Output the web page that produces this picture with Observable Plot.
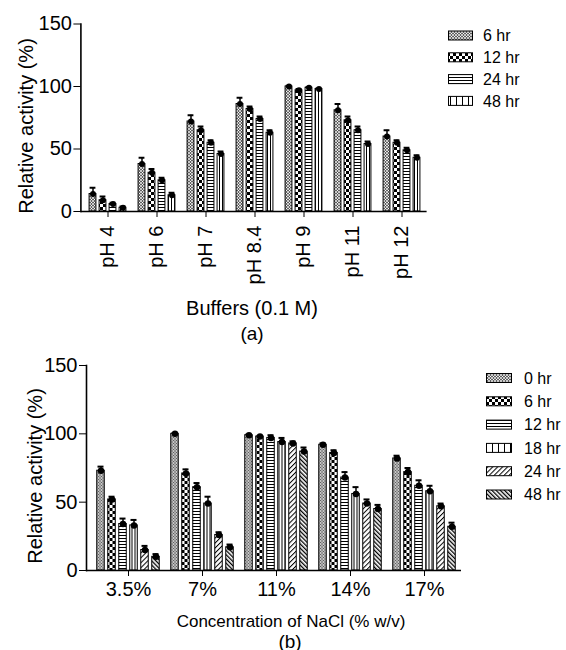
<!DOCTYPE html>
<html><head><meta charset="utf-8">
<script src="https://cdn.jsdelivr.net/npm/d3@7"></script>
<script src="https://cdn.jsdelivr.net/npm/@observablehq/plot@0.6"></script>
<style>
body{margin:0;background:#fff;font-family:"Liberation Sans",Arial,sans-serif;color:#000;}
#wrap{position:relative;width:566px;height:650px;overflow:hidden;background:#fff;}
.abs{position:absolute;left:0;}
.txt{position:absolute;white-space:nowrap;transform:translate(-50%,-50%);line-height:1;}
.rot{position:absolute;white-space:nowrap;transform:translate(-50%,-50%) rotate(-90deg);line-height:1;}
</style></head>
<body>
<svg width="0" height="0" style="position:absolute">
<defs>
<pattern id="pFine" width="3" height="3" patternUnits="userSpaceOnUse"><rect width="3" height="3" fill="#fff"/><circle cx="1.5" cy="1.5" r="1" fill="none" stroke="#000" stroke-width="0.7"/></pattern>
<pattern id="pCheck" width="6" height="6" patternUnits="userSpaceOnUse"><rect width="6" height="6" fill="#fff"/><rect width="3" height="3" fill="#000"/><rect x="3" y="3" width="3" height="3" fill="#000"/></pattern>
<pattern id="pH" width="4" height="3" patternUnits="userSpaceOnUse"><rect width="4" height="3" fill="#fff"/><rect width="4" height="1" fill="#000"/></pattern>
<pattern id="pV" width="3" height="4" patternUnits="userSpaceOnUse"><rect width="3" height="4" fill="#fff"/><rect width="1" height="4" fill="#000"/></pattern>
<pattern id="pVL" width="6" height="4" patternUnits="userSpaceOnUse"><rect width="6" height="4" fill="#fff"/><rect width="1" height="4" fill="#000"/></pattern>
<pattern id="pD1" width="3.5" height="4" patternUnits="userSpaceOnUse" patternTransform="rotate(45)"><rect width="3.5" height="4" fill="#fff"/><rect width="1" height="4" fill="#000"/></pattern>
<pattern id="pD2" width="3" height="4" patternUnits="userSpaceOnUse" patternTransform="rotate(-45)"><rect width="3" height="4" fill="#fff"/><rect width="1.3" height="4" fill="#000"/></pattern>
</defs></svg>
<div id="wrap"></div>
<script>
// ---------- Chart (a): buffers ----------
const buffers = ["pH 4","pH 6","pH 7","pH 8.4","pH 9","pH 11","pH 12"];
const bufferSeries = ["6 hr","12 hr","24 hr","48 hr"];
const buf6hr  = [14, 38, 72, 86, 100, 81, 60];
const buf12hr = [9, 31, 65, 82, 97, 73, 55];
const buf24hr = [6, 25, 55, 74, 99, 65, 49];
const buf48hr = [3, 13, 46, 63, 98, 54, 43];
const bufErr6hr  = [5, 5, 5, 5, 0.5, 5, 5];
const bufErr12hr = [3, 3, 3, 2, 1, 3, 2];
const bufErr24hr = [1, 2, 2, 2, 0.5, 3, 2];
const bufErr48hr = [1, 2, 2, 2, 0.5, 2, 2];
const bufferTicks = [0, 50, 100, 150];

// ---------- Chart (b): NaCl ----------
const nacl = ["3.5%","7%","11%","14%","17%"];
const naclSeries = ["0 hr","6 hr","12 hr","18 hr","24 hr","48 hr"];
const nacl0hr  = [73, 100, 99, 92, 82];
const nacl6hr  = [52, 71, 98, 86, 72];
const nacl12hr = [34, 61, 97, 68, 62];
const nacl18hr = [33, 49, 94, 56, 58];
const nacl24hr = [15, 26, 93, 49, 47];
const nacl48hr = [10, 17, 87, 45, 32];
const naclErr0hr  = [3, 0.5, 0.5, 1, 2];
const naclErr6hr  = [2, 3, 0.5, 2, 3];
const naclErr12hr = [4, 3, 2, 4, 4];
const naclErr18hr = [4, 5, 3, 5, 4];
const naclErr24hr = [3, 2, 1.5, 3, 2];
const naclErr48hr = [2, 2, 3, 3, 3];
const naclTicks = [0, 50, 100, 150];

const FONT = '"Liberation Sans", Arial, sans-serif';
const wrap = document.getElementById("wrap");

function longData(cats, series, vals, errs) {
  const out = [];
  series.forEach((s, i) => cats.forEach((c, j) => out.push({cat: c, series: s, value: vals[i][j], err: errs[i][j]})));
  return out;
}

function groupedChart({cats, series, vals, errs, fills, ticks, width, height, marginLeft, marginRight, marginTop, marginBottom, step, barW, capW, axisDx, rotate, tickPadding}) {
  const data = longData(cats, series, vals, errs);
  const bw = (width - marginLeft - marginRight) / cats.length;
  const n = series.length;
  const marks = [];
  series.forEach((s, i) => {
    const d = data.filter(r => r.series === s);
    const dx = (i - (n - 1) / 2) * step;
    marks.push(Plot.ruleX(d, {x: "cat", y1: "value", y2: r => r.value + r.err, dx, stroke: "#000", strokeWidth: 1.5}));
    marks.push(Plot.tickY(d, {x: "cat", y: r => r.value + r.err, dx, insetLeft: (bw - capW) / 2, insetRight: (bw - capW) / 2, stroke: "#000", strokeWidth: 2}));
    marks.push(Plot.barY(d, {x: "cat", y: "value", dx, insetLeft: (bw - barW) / 2, insetRight: (bw - barW) / 2, fill: `url(#${fills[i]})`, stroke: "#000", strokeWidth: 1}));
    marks.push(Plot.dot(d, {x: "cat", y: "value", dx, r: barW / 2 - 0.5, fill: "#000", stroke: null}));
  });
  marks.push(Plot.ruleY([0], {stroke: "#000", strokeWidth: 1.6, insetLeft: -axisDx}));
  marks.push(Plot.frame({anchor: "left", stroke: "#000", strokeWidth: 1.6, dx: -axisDx}));
  marks.push(Plot.axisY({ticks, tickSize: 7, tickPadding: 2, fontSize: 20, dx: -axisDx, tickFormat: d => d, label: null}));
  marks.push(Plot.axisX({tickRotate: rotate, tickSize: 6, tickPadding, fontSize: 20, label: null}));
  return Plot.plot({
    width, height, marginLeft, marginRight, marginTop, marginBottom,
    x: {domain: cats, padding: 0, label: null},
    y: {domain: [0, 150], label: null},
    style: {fontFamily: FONT, color: "#000", background: "transparent", overflow: "visible"},
    marks
  });
}

const plotA = groupedChart({
  cats: buffers, series: bufferSeries,
  vals: [buf6hr, buf12hr, buf24hr, buf48hr],
  errs: [bufErr6hr, bufErr12hr, bufErr24hr, bufErr48hr],
  fills: ["pFine", "pCheck", "pH", "pV"], ticks: bufferTicks,
  width: 566, height: 260, marginLeft: 82.4, marginRight: 139.4, marginTop: 23.5, marginBottom: 49,
  step: 10, barW: 7, capW: 6, axisDx: 2, rotate: -90, tickPadding: 8
});
plotA.classList.add("abs"); plotA.style.top = "0px";
wrap.appendChild(plotA);

const plotB = groupedChart({
  cats: nacl, series: naclSeries,
  vals: [nacl0hr, nacl6hr, nacl12hr, nacl18hr, nacl24hr, nacl48hr],
  errs: [naclErr0hr, naclErr6hr, naclErr12hr, naclErr18hr, naclErr24hr, naclErr48hr],
  fills: ["pFine", "pCheck", "pH", "pV", "pD1", "pD2"], ticks: naclTicks,
  width: 566, height: 270, marginLeft: 91, marginRight: 105, marginTop: 25, marginBottom: 40,
  step: 11, barW: 7.5, capW: 6, axisDx: 5, rotate: 0, tickPadding: 5
});
plotB.classList.add("abs"); plotB.style.top = "340px";
wrap.appendChild(plotB);

// ---------- text ----------
function addText(cls, txt, x, y, size) {
  const el = document.createElement("div");
  el.className = cls; el.textContent = txt;
  el.style.left = x + "px"; el.style.top = y + "px"; el.style.fontSize = size + "px";
  wrap.appendChild(el);
}
addText("rot", "Relative activity (%)", 26, 126, 20);
addText("txt", "Buffers (0.1 M)", 252, 308, 20);
addText("txt", "(a)", 252, 333, 19);
addText("rot", "Relative activity (%)", 35, 476, 20);
addText("txt", "Concentration of NaCl (% w/v)", 291, 621, 17);
addText("txt", "(b)", 290, 641, 19);

// ---------- legends ----------
function legend(series, fills, x0, y0, rowH, swW, swH, labelX, top) {
  const svg = d3.select(wrap).append("svg").attr("class", "abs")
    .attr("width", 566).attr("height", series.length * rowH + 20)
    .style("top", top + "px").style("overflow", "visible");
  series.forEach((s, i) => {
    const cy = y0 - top + i * rowH;
    svg.append("rect").attr("x", x0).attr("y", cy - swH / 2).attr("width", swW).attr("height", swH)
      .attr("fill", `url(#${fills[i] === "pV" ? "pVL" : fills[i]})`).attr("stroke", "#000").attr("stroke-width", 1);
    svg.append("text").attr("x", labelX).attr("y", cy).attr("dy", "0.35em")
      .attr("font-family", FONT).attr("font-size", 16).attr("fill", "#000").text(s);
  });
}
legend(bufferSeries, ["pFine", "pCheck", "pH", "pV"], 448.5, 35.5, 21.8, 24, 9, 483, 20);
legend(naclSeries, ["pFine", "pCheck", "pH", "pV", "pD1", "pD2"], 486.5, 378, 23.3, 25, 9, 524, 360);
</script>
</body></html>
